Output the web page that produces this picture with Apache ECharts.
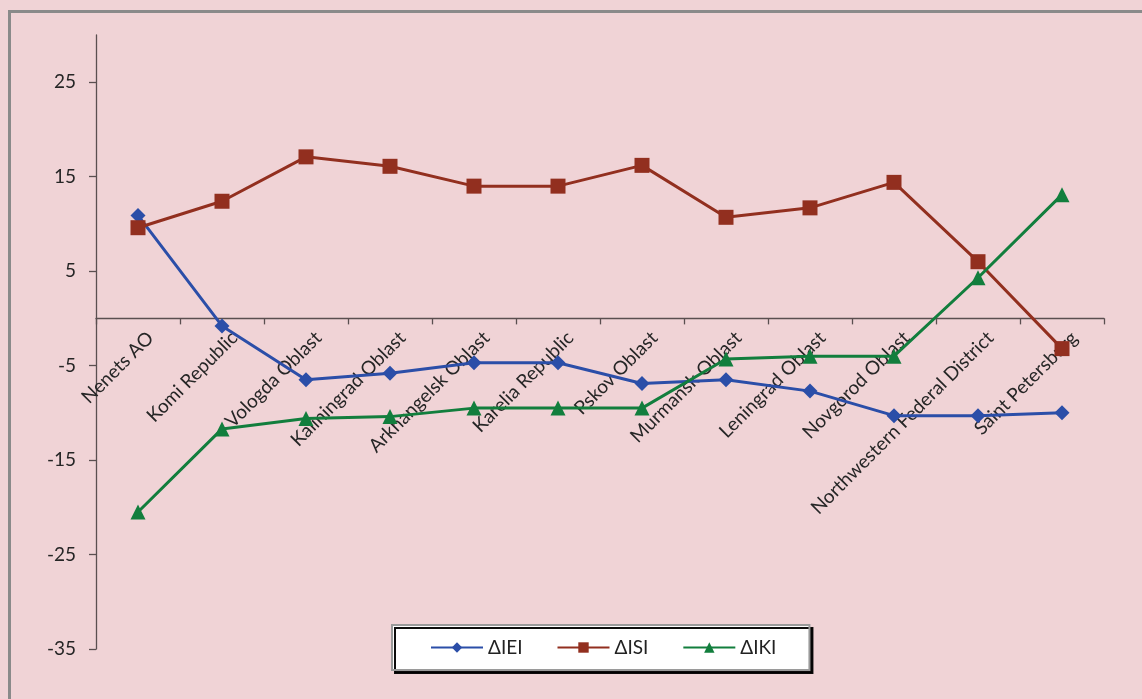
<!DOCTYPE html>
<html>
<head>
<meta charset="utf-8">
<script src="https://cdn.jsdelivr.net/npm/echarts@6/dist/echarts.min.js"></script>
<style>
html,body{margin:0;padding:0;background:#F0D3D6;}
#chart{width:1142px;height:699px;}
</style>
</head>
<body>
<div id="chart"></div>
<script>
var categories = ["Nenets AO","Komi Republic","Vologda Oblast","Kaliningrad Oblast","Arkhangelsk Oblast","Karelia Republic","Pskov Oblast","Murmansk Oblast","Leningrad Oblast","Novgorod Oblast","Northwestern Federal District","Saint Petersburg"];
var seriesIEI = [10.9, -0.8, -6.5, -5.8, -4.7, -4.7, -6.9, -6.5, -7.7, -10.3, -10.3, -10.0];
var seriesISI = [9.6, 12.4, 17.1, 16.1, 14.0, 14.0, 16.2, 10.7, 11.7, 14.4, 6.0, -3.2];
var seriesIKI = [-20.5, -11.7, -10.6, -10.4, -9.5, -9.5, -9.5, -4.3, -4.0, -4.0, 4.3, 13.1];
var yTicks = [-35, -25, -15, -5, 5, 15, 25];

var FONT = 'Lato';
var GRID_TOP = 35, GRID_BOTTOM = 50, H = 699, Y_MIN = -35, Y_MAX = 30;
var plotH = H - GRID_TOP - GRID_BOTTOM;
var zeroOffset = -(plotH * (0 - Y_MIN) / (Y_MAX - Y_MIN));

var chart = echarts.init(document.getElementById('chart'));
chart.setOption({
  backgroundColor: '#F0D3D6',
  animation: false,
  textStyle: {fontFamily: FONT},
  graphic: [{
    type: 'rect', z: -1,
    shape: {x: 9.5, y: 11.5, width: 1200, height: 800},
    style: {fill: 'none', stroke: '#8a8a8a', lineWidth: 3}
  }],
  grid: {left: 96, right: 38, top: GRID_TOP, bottom: GRID_BOTTOM, containLabel: false, outerBoundsMode: 'none'},
  legend: {
    left: 392, top: 625,
    padding: [13, 33, 13, 38],
    itemGap: 34,
    itemWidth: 52, itemHeight: 13,
    backgroundColor: '#ffffff',
    borderColor: '#9a9a9a', borderWidth: 2,
    shadowColor: 'rgba(0,0,0,0.95)', shadowBlur: 0, shadowOffsetX: 3, shadowOffsetY: 3,
    textStyle: {fontFamily: FONT, fontSize: 19, color: '#222'},
    data: ['ΔIEI', 'ΔISI', 'ΔIKI']
  },
  xAxis: {
    type: 'category',
    data: categories,
    boundaryGap: true,
    offset: zeroOffset,
    axisLine: {onZero: false, lineStyle: {color: '#5a4f50', width: 1.3}},
    axisTick: {show: true, length: 6, lineStyle: {color: '#5a4f50', width: 1.3}},
    axisLabel: {rotate: 45, margin: 14, interval: 0, fontFamily: FONT, fontSize: 19, lineHeight: 21, color: '#262626', hideOverlap: false,
      padding: [0, -7, 0, 0],
      formatter: function (v) { return '\n' + v; }},
    splitLine: {show: false}
  },
  yAxis: {
    type: 'value',
    min: Y_MIN, max: Y_MAX, interval: 10,
    axisLine: {show: true, lineStyle: {color: '#5a4f50', width: 1.3}},
    axisTick: {show: true, length: 7, customValues: yTicks, lineStyle: {color: '#5a4f50', width: 1.3}},
    axisLabel: {customValues: yTicks, margin: 20, fontFamily: FONT, fontSize: 19, color: '#262626'},
    splitLine: {show: false}
  },
  series: [{
    name: 'ΔIEI', type: 'line', data: seriesIEI,
    symbol: 'diamond', symbolSize: 15,
    lineStyle: {color: '#2B4EA8', width: 3},
    itemStyle: {color: '#2B4EA8'}
  }, {
    name: 'ΔISI', type: 'line', data: seriesISI,
    symbol: 'rect', symbolSize: 15,
    lineStyle: {color: '#922F1F', width: 3},
    itemStyle: {color: '#922F1F'}
  }, {
    name: 'ΔIKI', type: 'line', data: seriesIKI,
    symbol: 'triangle', symbolSize: 15,
    lineStyle: {color: '#127E3D', width: 3},
    itemStyle: {color: '#127E3D'}
  }]
});
</script>
</body>
</html>
